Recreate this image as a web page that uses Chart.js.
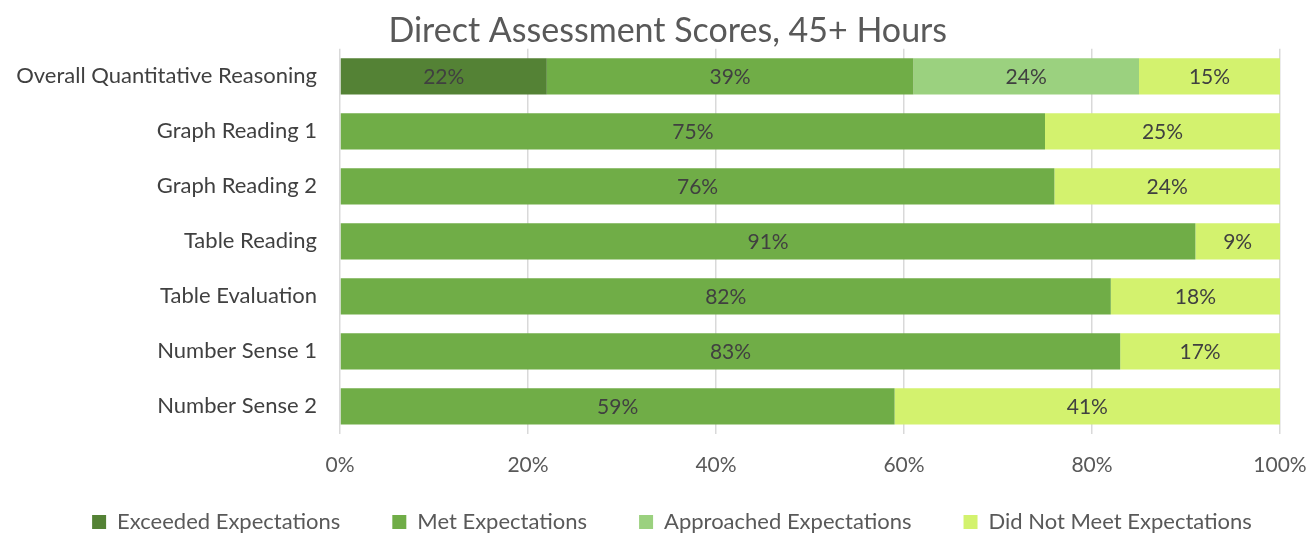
<!DOCTYPE html>
<html>
<head>
<meta charset="utf-8">
<script src="https://cdn.jsdelivr.net/npm/chart.js@4"></script>
<style>
  html, body { margin: 0; padding: 0; background: #fff; }
  #wrap { width: 1308px; height: 535px; }
</style>
</head>
<body>
<div id="wrap"><canvas id="myChart"></canvas></div>
<script>
// Kategori dan nilai (persen)
const categories = ['Overall Quantitative Reasoning', 'Graph Reading 1', 'Graph Reading 2',
  'Table Reading', 'Table Evaluation', 'Number Sense 1', 'Number Sense 2'];
const exceeded = [22, 0, 0, 0, 0, 0, 0];
const met = [39, 75, 76, 91, 82, 83, 59];
const approached = [24, 0, 0, 0, 0, 0, 0];
const notMet = [15, 25, 24, 9, 18, 17, 41];
const tickLabels = ['0%', '20%', '40%', '60%', '80%', '100%'];

const FONT = 'Lato, "Open Sans", sans-serif';

// Label persen di tengah bar
const barLabels = {
  id: 'barLabels',
  afterDatasetsDraw(chart) {
    const ctx = chart.ctx;
    ctx.save();
    ctx.font = '21px ' + FONT;
    ctx.fillStyle = '#404040';
    ctx.textAlign = 'center';
    ctx.textBaseline = 'middle';
    chart.data.datasets.forEach((ds, i) => {
      chart.getDatasetMeta(i).data.forEach((bar, j) => {
        const v = ds.data[j];
        if (!v) return;
        const p = bar.getCenterPoint();
        ctx.fillText(v + '%', p.x, p.y + 1);
      });
    });
    ctx.restore();
  }
};

const ctx = document.getElementById('myChart').getContext('2d');
const myChart = new Chart(ctx, {
  type: 'bar',
  data: {
    labels: categories,
    datasets: [
      { label: 'Exceeded Expectations', data: exceeded, backgroundColor: '#548235' },
      { label: 'Met Expectations', data: met, backgroundColor: '#70AD47' },
      { label: 'Approached Expectations', data: approached, backgroundColor: '#9BD17F' },
      { label: 'Did Not Meet Expectations', data: notMet, backgroundColor: '#D3F26E' }
    ]
  },
  options: {
    indexAxis: 'y',
    responsive: true,
    maintainAspectRatio: false,
    animation: false,
    datasets: {
      bar: { barPercentage: 0.66, categoryPercentage: 1, borderWidth: 0 }
    },
    layout: { padding: { left: 10, right: -26, top: 11, bottom: -8 } },
    plugins: {
      title: {
        display: true,
        text: 'Direct Assessment Scores, 45+ Hours\u2009\u2009',
        color: '#595959',
        font: { family: FONT, size: 34, weight: 'normal' },
        padding: { top: 0, bottom: -3 }
      },
      legend: {
        position: 'bottom',
        labels: {
          color: '#595959',
          font: { family: FONT, size: 22 },
          boxWidth: 14,
          boxHeight: 14,
          padding: 8,
          generateLabels: chart => {
            const items = Chart.defaults.plugins.legend.labels.generateLabels(chart);
            // jarak antar item legend lebih lebar
            items.forEach((it, i) => {
              if (i < items.length - 1) it.text = it.text + '\u2003\u2003\u2002';
            });
            return items;
          }
        }
      },
      tooltip: { enabled: false }
    },
    scales: {
      x: {
        stacked: true,
        min: 0,
        max: 100,
        grid: { color: '#d9d9d9', drawTicks: false, lineWidth: 1.5 },
        border: { display: false },
        ticks: {
          stepSize: 20,
          padding: 19,
          color: '#595959',
          font: { family: FONT, size: 21 },
          callback: (v, i) => tickLabels[i]
        },
        afterFit: scale => {
          scale.height += 6;
          scale.paddingRight = 28;
        }
      },
      y: {
        stacked: true,
        grid: { display: false },
        border: { display: false },
        ticks: {
          padding: 15,
          color: '#404040',
          font: { family: FONT, size: 22 }
        },
        afterFit: scale => { scale.width = 330; }
      }
    }
  },
  plugins: [barLabels]
});
</script>
</body>
</html>
